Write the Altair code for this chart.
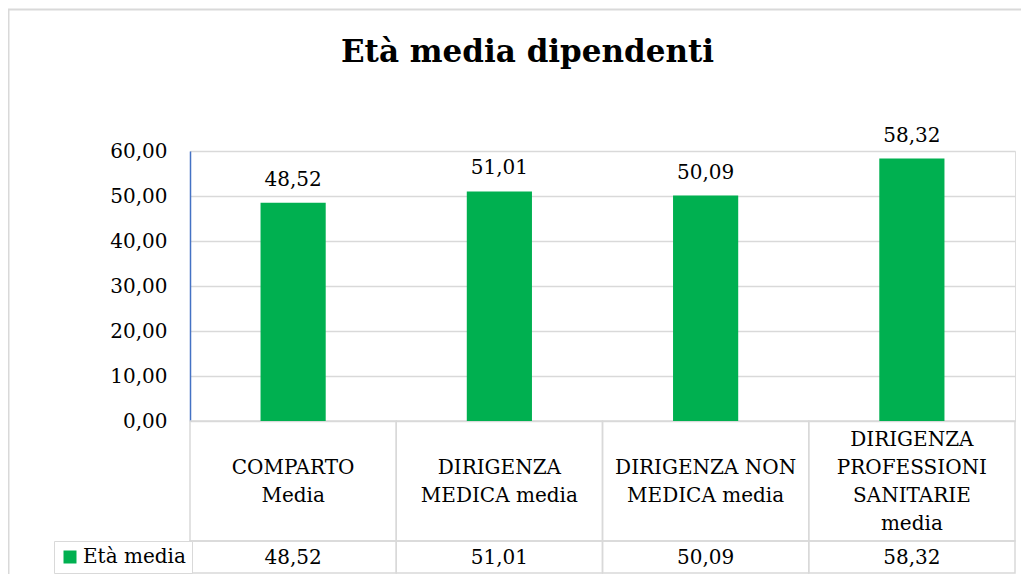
import altair as alt
import pandas as pd

title_text = "Età media dipendenti"
categories = [
    "COMPARTO\nMedia",
    "DIRIGENZA\nMEDICA media",
    "DIRIGENZA NON\nMEDICA media",
    "DIRIGENZA\nPROFESSIONI\nSANITARIE\nmedia",
]
values = [48.52, 51.01, 50.09, 58.32]
series_name = "Età media"
y_ticks = [0, 10, 20, 30, 40, 50, 60]

df = pd.DataFrame({"categoria": categories, "valore": values, "serie": [series_name] * len(values)})

FONT = "DejaVu Serif"
GRID = "#d9d9d9"
GREEN = "#00b050"
W, H = 825, 270
LINE_H = 28
ROW1_TOP, ROW1_BOT, ROW2_BOT = 270, 390, 422

fmt = "replace(format(datum.valore, '.2f'), '.', ',')"

x_enc = alt.X(
    "categoria:N",
    sort=categories,
    scale=alt.Scale(paddingInner=0, paddingOuter=0),
    axis=None,
)

base = alt.Chart(df).transform_calculate(
    lab=fmt, nlines="length(split(datum.categoria, '\\n'))"
)

bars = base.mark_bar(width=alt.RelativeBandSize(0.316)).encode(
    x=x_enc,
    y=alt.Y(
        "valore:Q",
        scale=alt.Scale(domain=[0, 60], nice=False),
        axis=alt.Axis(
            values=y_ticks,
            labelExpr="replace(format(datum.value, '.2f'), '.', ',')",
            title=None,
            ticks=False,
            domainColor="#4472c4",
            domainWidth=1.5,
            gridColor=GRID,
            gridWidth=1.5,
            labelFontSize=20,
            labelFont=FONT,
            labelColor="#000000",
            labelPadding=23,
        ),
    ),
    color=alt.Color(
        "serie:N",
        scale=alt.Scale(domain=[series_name], range=[GREEN]),
        legend=alt.Legend(
            orient="none",
            legendX=-136,
            legendY=ROW1_BOT,
            title=None,
            strokeColor=GRID,
            fillColor="white",
            padding=6,
            symbolType="square",
            symbolSize=169,
            symbolStrokeWidth=0,
            labelFontSize=20,
            labelFont=FONT,
            labelColor="#000000",
            labelOffset=3,
        ),
    ),
)

bar_labels = base.mark_text(baseline="alphabetic", dy=-17, fontSize=20, font=FONT, color="#000000").encode(
    x=x_enc, y="valore:Q", text="lab:N"
)

cells_top = base.mark_rect(filled=False, stroke=GRID, strokeWidth=1.5).encode(
    x=x_enc, y=alt.value(ROW1_TOP), y2=alt.value(ROW1_BOT)
)
cells_bottom = base.mark_rect(filled=False, stroke=GRID, strokeWidth=1.5).encode(
    x=x_enc, y=alt.value(ROW1_BOT), y2=alt.value(ROW2_BOT)
)

row1_mid = (ROW1_TOP + ROW1_BOT) / 2 + 1
line_counts = sorted({c.count("\n") + 1 for c in categories})
cat_layers = [
    base.transform_filter(f"datum.nlines == {n}")
    .mark_text(lineBreak="\n", lineHeight=LINE_H, fontSize=20, font=FONT, baseline="middle", color="#000000")
    .encode(x=x_enc, y=alt.value(row1_mid - (n - 1) * LINE_H / 2), text="categoria:N")
    for n in line_counts
]

val_text = base.mark_text(fontSize=20, font=FONT, baseline="middle", color="#000000").encode(
    x=x_enc, y=alt.value((ROW1_BOT + ROW2_BOT) / 2 + 1), text="lab:N"
)

frame = alt.Chart(pd.DataFrame({"k": [0]})).mark_rect(filled=False, stroke=GRID, strokeWidth=2).encode(
    x=alt.value(-181.5), x2=alt.value(837), y=alt.value(-141.5), y2=alt.value(440)
)

chart = (
    alt.layer(frame, cells_top, cells_bottom, bars, bar_labels, *cat_layers, val_text)
    .properties(
        width=W,
        height=H,
        title=alt.TitleParams(
            title_text,
            font=FONT,
            fontSize=31,
            fontWeight="bold",
            color="#000000",
            anchor="middle",
            frame="group",
            baseline="alphabetic",
            dx=-75,
            offset=-84,
        ),
        padding={"left": 182, "top": 143, "right": 6, "bottom": 153},
        autosize=alt.AutoSizeParams(type="none"),
    )
    .configure_view(stroke=None)
    .configure(font=FONT, background="white")
)

chart.save("out.html", embed_options={"renderer": "svg", "actions": False})
